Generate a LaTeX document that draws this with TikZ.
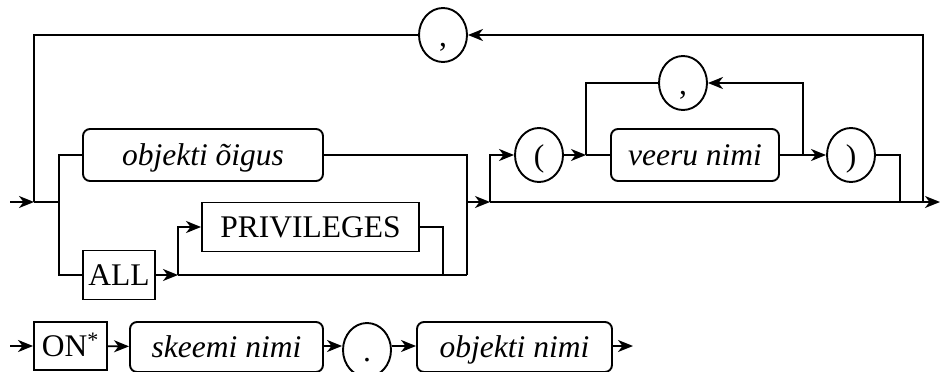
\documentclass[tikz,border=0pt]{standalone}
\usepackage{fontspec}
\setmainfont{Liberation Serif}
\usetikzlibrary{arrows.meta,shapes.geometric}
\tikzset{
  rr/.style={-{Stealth[length=15pt,width=12pt,inset=4.5pt]}},
  term/.style={draw,rectangle,minimum height=49pt,inner sep=0pt,text height=20.5pt,text depth=0pt},
  nonterm/.style={draw,rectangle,rounded corners=7pt,minimum height=52pt,inner sep=0pt,text height=20.5pt,text depth=0pt,font=\fontsize{31.5}{31.5}\selectfont\itshape},
  punct/.style={draw,ellipse,minimum width=48pt,minimum height=54pt,inner sep=0pt,text height=22pt,text depth=0pt}
}
\begin{document}
\begin{tikzpicture}[x=1pt,y=-1pt,line width=1.9pt,font=\fontsize{31.5}{31.5}\selectfont]
		\useasboundingbox (0,0) rectangle (940,372);
		% first row: nodes
		\node[punct] (comma1) at (443,35) {,};
		\node[nonterm,minimum width=240pt] (oigus) at (203,155) {objekti õigus};
		\node[term,minimum width=72pt] (all) at (119,275) {ALL};
		\node[term,minimum width=217pt] (priv) at (310.5,227) {PRIVILEGES};
		\node[punct] (lpar) at (539,155) {(};
		\node[nonterm,minimum width=168pt] (veeru) at (695,155) {veeru nimi};
		\node[punct] (comma2) at (683,83) {,};
		\node[punct] (rpar) at (851,155) {)};
		\coordinate (in) at (10,202); \coordinate (j1) at (34,202);
		\coordinate (j2) at (59,202); \coordinate (j3) at (467,202);
		\coordinate (m1) at (467,275); \coordinate (a1) at (178,275);
		\coordinate (a2) at (443,275); \coordinate (j4) at (490,202);
		\coordinate (k1) at (586,155); \coordinate (k2) at (803,155);
		\coordinate (j5) at (900,202); \coordinate (j6) at (923,202);
		\coordinate (out) at (940,202);
		% first row: connectors
		\draw[rr] (in) -- (j1);
		\draw (j1) -- (j2); \draw (j1) |- (comma1.west);
		\draw[rr] (j6) |- (comma1.east);
		\draw (j2) |- (oigus.west); \draw (j2) |- (all.west);
		\draw (oigus.east) -| (m1);
		\draw[rr] (all.east) -- (a1); \draw (a1) -- (m1);
		\draw[rr] (a1) |- (priv.west);
		\draw (priv.east) -| (a2);
		\draw[rr] (j3) -- (j4);
		\draw[rr] (j4) |- (lpar.west);
		\draw[rr] (lpar.east) -- (k1);
		\draw (k1) -- (veeru.west); \draw (k1) |- (comma2.west);
		\draw (veeru.east) -- (k2);
		\draw[rr] (k2) -- (rpar.west);
		\draw[rr] (k2) |- (comma2.east);
		\draw (rpar.east) -| (j5);
		\draw (j4) -- (j6);
		\draw[rr] (j6) -- (out);
		% second row
		\node[term,minimum width=73pt,minimum height=48pt] (on) at (70.5,346) {ON\textsuperscript{*}};
		\node[nonterm,minimum width=193pt,minimum height=50pt] (skeem) at (226.5,347) {skeemi nimi};
		\node[punct] (dot) at (367,350) {.};
		\node[nonterm,minimum width=195pt,minimum height=50pt] (obj) at (514.5,347) {objekti nimi};
		\coordinate (in2) at (10,346); \coordinate (out2) at (633,346);
		\draw[rr] (in2) -- (on);
		\draw[rr] (on) -- (skeem);
		\draw[rr] (skeem.east |- in2) -- (dot.west |- in2);
		\draw[rr] (dot.east |- in2) -- (obj.west |- in2);
		\draw[rr] (obj.east |- in2) -- (out2);
\end{tikzpicture}
\end{document}
